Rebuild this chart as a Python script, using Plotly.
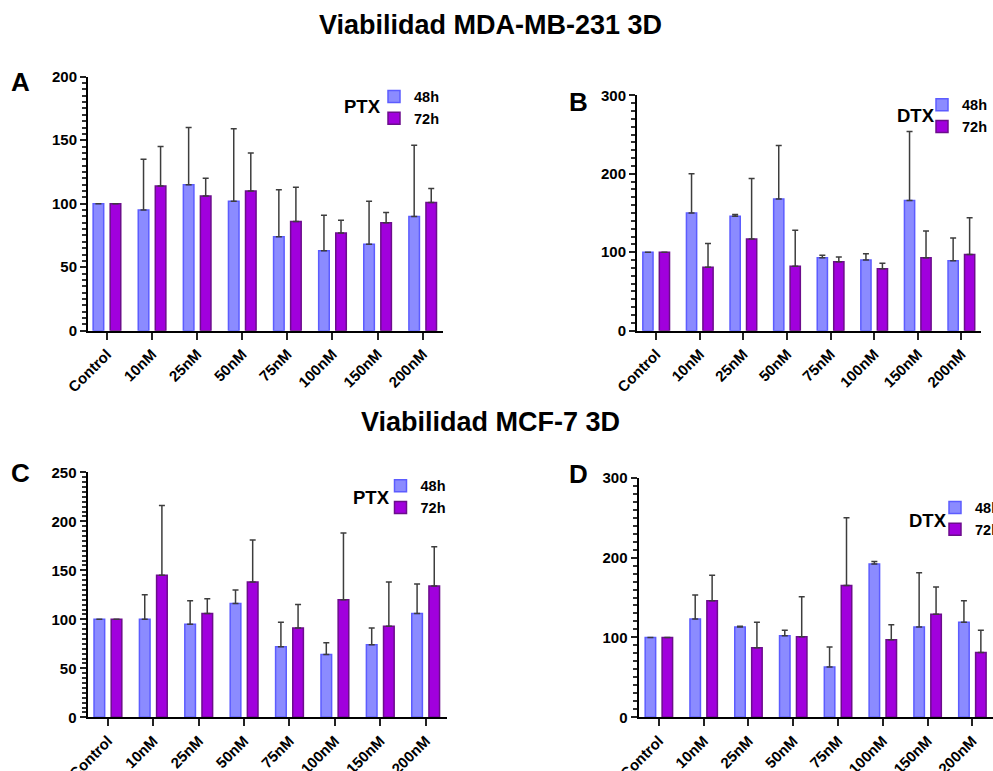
import plotly.graph_objects as go

cats = ["Control", "10nM", "25nM", "50nM", "75nM", "100nM", "150nM", "200nM"]

# Panel A: MDA-MB-231, PTX
a_48 = [100, 95, 115, 102, 74, 63, 68, 90]
a_48_err = [0, 40, 45, 57, 37, 28, 34, 56]
a_72 = [100, 114, 106, 110, 86, 77, 85, 101]
a_72_err = [0, 31, 14, 30, 27, 10, 8, 11]

# Panel B: MDA-MB-231, DTX
b_48 = [100, 150, 146, 168, 93, 90, 166, 89]
b_48_err = [0, 50, 2, 68, 3, 8, 88, 29]
b_72 = [100, 81, 117, 82, 88, 79, 93, 97]
b_72_err = [0, 30, 77, 46, 6, 7, 34, 47]

# Panel C: MCF-7, PTX
c_48 = [100, 100, 95, 116, 72, 64, 74, 106]
c_48_err = [0, 25, 24, 14, 25, 12, 17, 30]
c_72 = [100, 145, 106, 138, 91, 120, 93, 134]
c_72_err = [0, 71, 15, 43, 24, 68, 45, 40]

# Panel D: MCF-7, DTX
d_48 = [100, 123, 113, 102, 63, 192, 113, 119]
d_48_err = [0, 30, 1, 7, 25, 3, 68, 27]
d_72 = [100, 146, 87, 101, 165, 97, 129, 81]
d_72_err = [0, 32, 32, 50, 85, 19, 34, 28]

series_names = ["48h", "72h"]
drug_names = ["PTX", "DTX", "PTX", "DTX"]
titles = ["Viabilidad MDA-MB-231 3D", "Viabilidad MCF-7 3D"]
letters = ["A", "B", "C", "D"]
y_max = [200, 300, 250, 300]
y_dtick = [50, 100, 50, 100]

W, H = 993, 771
FONT = "Liberation Sans, Arial, sans-serif"
fill = ["#8b8bff", "#a100dd"]
edge = ["#5c5cff", "#6c0d8c"]

panels = [
    (a_48, a_48_err, a_72, a_72_err),
    (b_48, b_48_err, b_72, b_72_err),
    (c_48, c_48_err, c_72, c_72_err),
    (d_48, d_48_err, d_72, d_72_err),
]

# layout geometry (pixels)
geo = [
    dict(x0=88, x1=443, ytop=76.7, ybot=330.7, xr=(-0.42, 7.45)),
    dict(x0=637, x1=981, ytop=95.3, ybot=330.7, xr=(-0.44, 7.45)),
    dict(x0=87.5, x1=447, ytop=472.3, ybot=717.3, xr=(-0.45, 7.47)),
    dict(x0=638.5, x1=993, ytop=477.7, ybot=717.3, xr=(-0.455, 7.46)),
]
legend_pos = [(374, 80.5), (922, 88.7), (380.5, 469.8), (935, 491.5)]
drug_pos = [(362, 107), (915.5, 115), (371.7, 497.3), (928, 520)]
letter_pos = [(20, 82), (578, 102), (20, 473), (578, 474)]

fig = go.Figure()
layout = {}
for i, (v48, e48, v72, e72) in enumerate(panels):
    sfx = "" if i == 0 else str(i + 1)
    leg = "legend" + sfx
    for k, (vals, errs) in enumerate([(v48, e48), (v72, e72)]):
        fig.add_trace(go.Bar(
            x=cats, y=vals, name=series_names[k],
            marker=dict(color=fill[k], line=dict(color=edge[k], width=1.5)),
            error_y=dict(type="data", array=errs, arrayminus=[0] * len(errs),
                         symmetric=False, color="#3d3d3d", thickness=1.5, width=3),
            xaxis="x" + sfx, yaxis="y" + sfx, legend=leg,
            offsetgroup=str(k), showlegend=True,
        ))
    g = geo[i]
    layout["xaxis" + sfx] = dict(
        domain=[g["x0"] / W, g["x1"] / W], anchor="y" + sfx, automargin=False,
        range=list(g["xr"]), showline=True, linecolor="black", linewidth=2,
        ticks="outside", ticklen=7, tickwidth=2, tickcolor="#222",
        tickangle=-45, showgrid=False, zeroline=False,
        tickfont=dict(family=FONT, size=15, color="black", weight="bold"),
    )
    layout["yaxis" + sfx] = dict(
        domain=[1 - g["ybot"] / H, 1 - g["ytop"] / H], anchor="x" + sfx,
        automargin=False,
        range=[0, y_max[i]], dtick=y_dtick[i], showline=True,
        linecolor="black", linewidth=2, ticks="outside", ticklen=6,
        tickwidth=2, tickcolor="#222", showgrid=False, zeroline=False,
        minor=dict(dtick=y_dtick[i] / 10, ticks="outside", ticklen=4,
                   tickwidth=1.5, tickcolor="#333", showgrid=False),
        tickfont=dict(family=FONT, size=15, color="black", weight="bold"),
    )
    lx, ly = legend_pos[i]
    layout[leg] = dict(
        x=lx / W, y=1 - ly / H, xanchor="left", yanchor="top",
        xref="paper", yref="paper", bgcolor="rgba(0,0,0,0)",
        font=dict(family=FONT, size=14.5, color="black", weight="bold"),
        itemwidth=30, traceorder="normal",
    )

annotations = []
for t, yy in zip(titles, [25, 422]):
    annotations.append(dict(
        text=t, x=490 / W, y=1 - yy / H,
        xref="paper", yref="paper", showarrow=False,
        xanchor="center", yanchor="middle",
        font=dict(family=FONT, size=27, color="black", weight="bold")))
for L, (px, py) in zip(letters, letter_pos):
    annotations.append(dict(
        text=L, x=px / W, y=1 - py / H, xref="paper", yref="paper",
        showarrow=False, xanchor="center", yanchor="middle",
        font=dict(family=FONT, size=26, color="black", weight="bold")))
for dname, (px, py) in zip(drug_names, drug_pos):
    annotations.append(dict(
        text=dname, x=px / W, y=1 - py / H, xref="paper", yref="paper",
        showarrow=False, xanchor="center", yanchor="middle",
        font=dict(family=FONT, size=18.5, color="black", weight="bold")))

fig.update_layout(
    width=W, height=H, margin=dict(l=0, r=0, t=0, b=0, autoexpand=False),
    paper_bgcolor="white", plot_bgcolor="white",
    barmode="group", bargap=0.244, bargroupgap=0.38,
    annotations=annotations, font=dict(family=FONT),
    **layout,
)

fig.write_html(
    "out.html",
    config={"displayModeBar": False},
    post_script="document.body.style.margin='0';document.body.style.overflow='hidden';",
)
